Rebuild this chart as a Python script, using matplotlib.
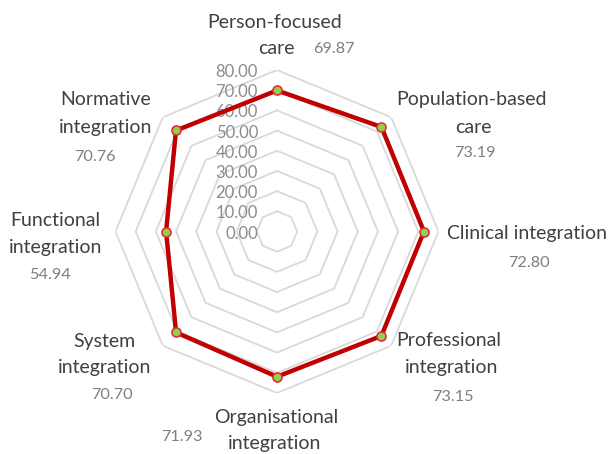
import numpy as np
import matplotlib
matplotlib.use("Agg")
import matplotlib.pyplot as plt
import matplotlib.transforms as mtrans

categories = ["Person-focused\ncare", "Population-based\ncare", "Clinical integration",
              "Professional\nintegration", "Organisational\nintegration", "System\nintegration",
              "Functional\nintegration", "Normative\nintegration"]
values = [69.87, 73.19, 72.80, 73.15, 71.93, 70.70, 54.94, 70.76]
value_labels = ["69.87", "73.19", "72.80", "73.15", "71.93", "70.70", "54.94", "70.76"]
rings = [10, 20, 30, 40, 50, 60, 70, 80]
tick_values = [0, 10, 20, 30, 40, 50, 60, 70, 80]
tick_labels = ["0.00", "10.00", "20.00", "30.00", "40.00", "50.00", "60.00", "70.00", "80.00"]

W, H = 611, 454
plt.rcParams['font.family'] = ['Lato', 'DejaVu Sans']
fig = plt.figure(figsize=(W/100, H/100), dpi=100)
cx, cy, R = 277, 231.5, 161.5
ax = fig.add_axes([(cx-R)/W, (H-cy-R)/H, 2*R/W, 2*R/H], projection='polar')
ax.set_theta_zero_location('N')
ax.set_theta_direction(-1)
ax.set_ylim(0, 80)
ax.grid(False)
ax.spines['polar'].set_visible(False)
ax.set_xticks([])
ax.set_yticks([])
ax.patch.set_alpha(0)

n = len(categories)
theta = np.arange(n) * 2*np.pi/n
theta_c = np.append(theta, theta[0])
for r in rings:
    ax.plot(theta_c, [r]*(n+1), color='#d9d9d9', lw=1.3, zorder=1)

vals_c = values + [values[0]]
ax.plot(theta_c, vals_c, color='#c00000', lw=3.2, zorder=3, solid_joinstyle='round')
ax.plot(theta, values, 'o', ms=6.5, mfc='#92d050', mec='#e03030', mew=1.2, zorder=4)

# radial tick labels
off = mtrans.ScaledTranslation(-19/100, -2/100, fig.dpi_scale_trans)
for v, t in zip(tick_values, tick_labels):
    ax.text(0, v, t, ha='right', va='center', fontsize=12, color='#8c8c8c',
            transform=ax.transData + off, zorder=2)

# category label line centres (pixels) and value labels
cat_pos = [[(275, 22), (276, 49)], [(472, 100), (473, 127)], [(527, 234)],
           [(449, 341), (452, 367)], [(276, 418), (275, 443)], [(104, 342), (105, 367)],
           [(55, 220), (56, 247)], [(106, 100), (106, 127)]]
val_pos = [(334, 49), (475, 153), (529, 263), (453, 397), (182, 437), (112, 395), (50, 275), (95, 157)]
for lab, poss in zip(categories, cat_pos):
    for line, (x, y) in zip(lab.split("\n"), poss):
        fig.text(x/W, 1-y/H, line, ha='center', va='center', fontsize=14, color='#404040')
for lab, (x, y) in zip(value_labels, val_pos):
    fig.text(x/W, 1-y/H, lab, ha='center', va='center', fontsize=11.7, color='#7f7f7f')

fig.savefig('out.png', dpi=100)
